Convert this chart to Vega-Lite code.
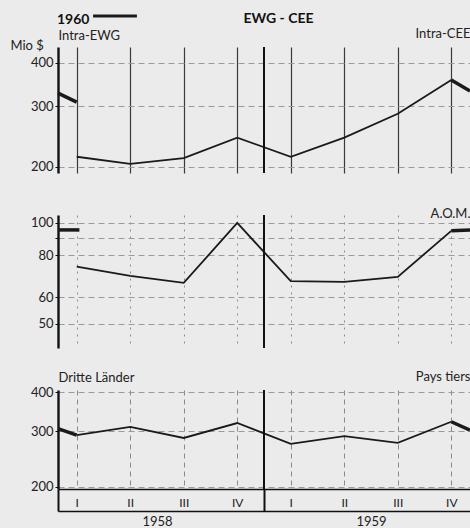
{
  "$schema": "https://vega.github.io/schema/vega-lite/v6.json",
  "background": "#ebebeb",
  "padding": {"left": 10, "top": 0, "right": 0, "bottom": 0},
  "config": {
    "view": {"stroke": null},
    "font": "Lato",
    "axis": {"labelFont": "Lato", "titleFont": "Lato", "labelColor": "#222", "titleColor": "#222", "labelFontSize": 13, "titleFontSize": 13, "titleFontWeight": "normal"},
    "legend": {"labelFont": "Lato", "titleFont": "Lato"}
  },
  "datasets": {
    "intra": [
      {"q": 1, "v": 214, "s": "1958-1959", "seg": "M"},
      {"q": 2, "v": 204, "s": "1958-1959", "seg": "M"},
      {"q": 3, "v": 212, "s": "1958-1959", "seg": "M"},
      {"q": 4, "v": 243, "s": "1958-1959", "seg": "M"},
      {"q": 5, "v": 214, "s": "1958-1959", "seg": "M"},
      {"q": 6, "v": 243, "s": "1958-1959", "seg": "M"},
      {"q": 7, "v": 285, "s": "1958-1959", "seg": "M"},
      {"q": 8, "v": 357, "s": "1958-1959", "seg": "M"},
      {"q": 0.65, "v": 327, "s": "1960", "seg": "L"},
      {"q": 1, "v": 308, "s": "1960", "seg": "L"},
      {"q": 8, "v": 357, "s": "1960", "seg": "R"},
      {"q": 8.35, "v": 332, "s": "1960", "seg": "R"}
    ],
    "aom": [
      {"q": 1, "v": 74, "s": "1958-1959", "seg": "M"},
      {"q": 2, "v": 69.5, "s": "1958-1959", "seg": "M"},
      {"q": 3, "v": 66.2, "s": "1958-1959", "seg": "M"},
      {"q": 4, "v": 100, "s": "1958-1959", "seg": "M"},
      {"q": 5, "v": 67, "s": "1958-1959", "seg": "M"},
      {"q": 6, "v": 66.7, "s": "1958-1959", "seg": "M"},
      {"q": 7, "v": 69, "s": "1958-1959", "seg": "M"},
      {"q": 8, "v": 94.7, "s": "1958-1959", "seg": "M"},
      {"q": 0.65, "v": 95.3, "s": "1960", "seg": "L"},
      {"q": 1.05, "v": 95.3, "s": "1960", "seg": "L"},
      {"q": 8, "v": 94.7, "s": "1960", "seg": "R"},
      {"q": 8.35, "v": 95.3, "s": "1960", "seg": "R"}
    ],
    "tiers": [
      {"q": 1, "v": 292, "s": "1958-1959", "seg": "M"},
      {"q": 2, "v": 310, "s": "1958-1959", "seg": "M"},
      {"q": 3, "v": 286, "s": "1958-1959", "seg": "M"},
      {"q": 4, "v": 319, "s": "1958-1959", "seg": "M"},
      {"q": 5, "v": 274, "s": "1958-1959", "seg": "M"},
      {"q": 6, "v": 290, "s": "1958-1959", "seg": "M"},
      {"q": 7, "v": 276, "s": "1958-1959", "seg": "M"},
      {"q": 8, "v": 322, "s": "1958-1959", "seg": "M"},
      {"q": 0.65, "v": 306, "s": "1960", "seg": "L"},
      {"q": 1, "v": 292, "s": "1960", "seg": "L"},
      {"q": 8, "v": 322, "s": "1960", "seg": "R"},
      {"q": 8.35, "v": 303, "s": "1960", "seg": "R"}
    ]
  },
  "bounds": "flush",
  "spacing": 42,
  "vconcat": [
    {
      "width": 412,
      "height": 126,
      "data": {"name": "intra"},
      "layer": [
        {
          "transform": [{"filter": "datum.s == '1958-1959'"}],
          "mark": {"type": "line", "color": "#1a1a1a", "strokeWidth": 1.8},
          "encoding": {
            "x": {"field": "q", "type": "quantitative", "scale": {"domain": [0.65, 8.35], "nice": false, "zero": false},
              "axis": {"orient": "bottom", "values": [1, 2, 3, 4, 5, 6, 7, 8], "grid": true, "gridColor": "#3a3a3a", "gridWidth": 1.2, "domain": false, "ticks": false, "labels": false,
                "title": "Intra-EWG", "titleX": 0, "titleY": -138, "titleAlign": "left", "titleBaseline": "middle"}},
            "y": {"field": "v", "type": "quantitative", "scale": {"type": "log", "domain": [192, 445], "nice": false},
              "axis": {"orient": "left", "values": [200, 300, 400], "grid": true, "gridColor": "#9a9a9a", "gridDash": [6, 4], "domainColor": "#111", "domainWidth": 2.4, "tickColor": "#111", "tickSize": 3, "labelPadding": 2,
                "title": "Mio $", "titleAngle": 0, "titleX": -48, "titleY": -2, "titleAlign": "left", "titleBaseline": "middle"}}
          }
        },
        {
          "transform": [{"filter": "datum.s == '1960'"}],
          "mark": {"type": "line", "strokeWidth": 3.5},
          "encoding": {
            "x": {"field": "q", "type": "quantitative",
              "axis": {"orient": "top", "grid": false, "domain": false, "ticks": false, "labels": false,
                "title": "Intra-CEE", "titleX": 412, "titleY": -14, "titleAlign": "right", "titleBaseline": "middle"}},
            "y": {"field": "v", "type": "quantitative"},
            "detail": {"field": "seg"},
            "color": {"field": "s", "type": "nominal", "scale": {"range": ["#1a1a1a"]},
              "legend": {"title": "1960", "titleOrient": "left", "titleFontSize": 14, "titleFontWeight": "bold", "titleColor": "#111", "titlePadding": 9,
                "titleBaseline": "line-top", "titleLineHeight": 18,
                "labelExpr": "''", "labelFontSize": 1, "labelOffset": 0, "symbolType": "M-1.55,0H1.55", "symbolStrokeWidth": 3, "symbolSize": 800, "symbolStrokeColor": "#111", "symbolFillColor": "transparent",
                "orient": "none", "legendX": -1, "legendY": -47, "padding": 0}}
          }
        },
        {
          "data": {"values": [{}]},
          "mark": {"type": "rule", "color": "#111", "strokeWidth": 2},
          "encoding": {
            "x": {"datum": 4.5, "type": "quantitative",
              "axis": {"orient": "top", "grid": false, "domain": false, "ticks": false, "labels": false,
                "title": "EWG - CEE", "titleX": 220, "titleY": -29, "titleAlign": "center", "titleBaseline": "middle", "titleFontSize": 14, "titleFontWeight": "bold", "titleColor": "#111"}}
          }
        }
      ]
    },
    {
      "width": 412,
      "height": 133,
      "data": {"name": "aom"},
      "layer": [
        {
          "transform": [{"filter": "datum.s == '1958-1959'"}],
          "mark": {"type": "line", "color": "#1a1a1a", "strokeWidth": 1.8},
          "encoding": {
            "x": {"field": "q", "type": "quantitative", "scale": {"domain": [0.65, 8.35], "nice": false, "zero": false},
              "axis": {"orient": "bottom", "values": [1, 2, 3, 4, 5, 6, 7, 8], "grid": true, "gridColor": "#8a8a8a", "gridDash": [2, 5], "gridWidth": 1, "domain": false, "ticks": false, "labels": false, "title": null}},
            "y": {"field": "v", "type": "quantitative", "scale": {"type": "log", "domain": [42.3, 105.6], "nice": false},
              "axis": {"orient": "left", "values": [50, 60, 80, 90, 100], "labelExpr": "datum.value == 90 ? '' : datum.label", "grid": true, "gridColor": "#9a9a9a", "gridDash": [6, 4], "domainColor": "#111", "domainWidth": 2.4, "tickColor": "#111", "tickSize": 3, "labelPadding": 2, "title": null}}
          }
        },
        {
          "transform": [{"filter": "datum.s == '1960'"}],
          "mark": {"type": "line", "color": "#1a1a1a", "strokeWidth": 3.5},
          "encoding": {
            "x": {"field": "q", "type": "quantitative",
              "axis": {"orient": "top", "grid": false, "domain": false, "ticks": false, "labels": false,
                "title": "A.O.M.", "titleX": 412, "titleY": -2, "titleAlign": "right", "titleBaseline": "middle"}},
            "y": {"field": "v", "type": "quantitative"},
            "detail": {"field": "seg"}
          }
        },
        {
          "data": {"values": [{}]},
          "mark": {"type": "rule", "color": "#111", "strokeWidth": 2},
          "encoding": {"x": {"datum": 4.5, "type": "quantitative", "axis": {"orient": "top", "grid": false, "domain": false, "ticks": false, "labels": false, "title": null}}}
        }
      ]
    },
    {
      "width": 412,
      "height": 99,
      "data": {"name": "tiers"},
      "resolve": {"axis": {"x": "independent"}},
      "layer": [
        {
          "transform": [{"filter": "datum.s == '1958-1959'"}],
          "mark": {"type": "line", "color": "#1a1a1a", "strokeWidth": 1.8},
          "encoding": {
            "x": {"field": "q", "type": "quantitative", "scale": {"domain": [0.65, 8.35], "nice": false, "zero": false},
              "axis": {"orient": "bottom", "values": [0.65, 1, 2, 3, 4, 4.5, 5, 6, 7, 8],
                "labelExpr": "datum.value == 1 || datum.value == 5 ? 'I' : datum.value == 2 || datum.value == 6 ? 'II' : datum.value == 3 || datum.value == 7 ? 'III' : datum.value == 4 || datum.value == 8 ? 'IV' : ''",
                "grid": true, "gridColor": "#8a8a8a", "gridDash": [5, 4], "gridWidth": 1,
                "gridOpacity": {"condition": {"test": "datum.value == 0.65 || datum.value == 4.5", "value": 0}, "value": 1},
                "domain": true, "domainColor": "#111", "domainWidth": 1.5,
                "ticks": true, "tickSize": 22, "tickColor": "#111", "tickWidth": 2,
                "tickOpacity": {"condition": {"test": "datum.value == 0.65 || datum.value == 4.5", "value": 1}, "value": 0},
                "labelPadding": -14, "labelFontSize": 12,
                "title": "Dritte Länder", "titleX": 0, "titleY": -112, "titleAlign": "left", "titleBaseline": "middle"}},
            "y": {"field": "v", "type": "quantitative", "scale": {"type": "log", "domain": [197, 406], "nice": false},
              "axis": {"orient": "left", "values": [200, 300, 400], "grid": true, "gridColor": "#9a9a9a", "gridDash": [6, 4], "domainColor": "#111", "domainWidth": 2.4, "tickColor": "#111", "tickSize": 3, "labelPadding": 2, "title": null}}
          }
        },
        {
          "transform": [{"filter": "datum.s == '1960'"}],
          "mark": {"type": "line", "color": "#1a1a1a", "strokeWidth": 3.5},
          "encoding": {
            "x": {"field": "q", "type": "quantitative",
              "axis": {"orient": "bottom", "offset": 22, "values": [2.5, 6.5], "labelExpr": "datum.value == 2.5 ? '1958' : '1959'",
                "grid": false, "domain": true, "domainColor": "#111", "domainWidth": 1.5, "ticks": false, "labelPadding": 4, "title": null}},
            "y": {"field": "v", "type": "quantitative"},
            "detail": {"field": "seg"}
          }
        },
        {
          "data": {"values": [{}]},
          "mark": {"type": "rule", "color": "#111", "strokeWidth": 2},
          "encoding": {
            "x": {"datum": 4.5, "type": "quantitative",
              "axis": {"orient": "top", "grid": false, "domain": false, "ticks": false, "labels": false,
                "title": "Pays tiers", "titleX": 412, "titleY": -14, "titleAlign": "right", "titleBaseline": "middle"}}
          }
        }
      ]
    }
  ]
}
